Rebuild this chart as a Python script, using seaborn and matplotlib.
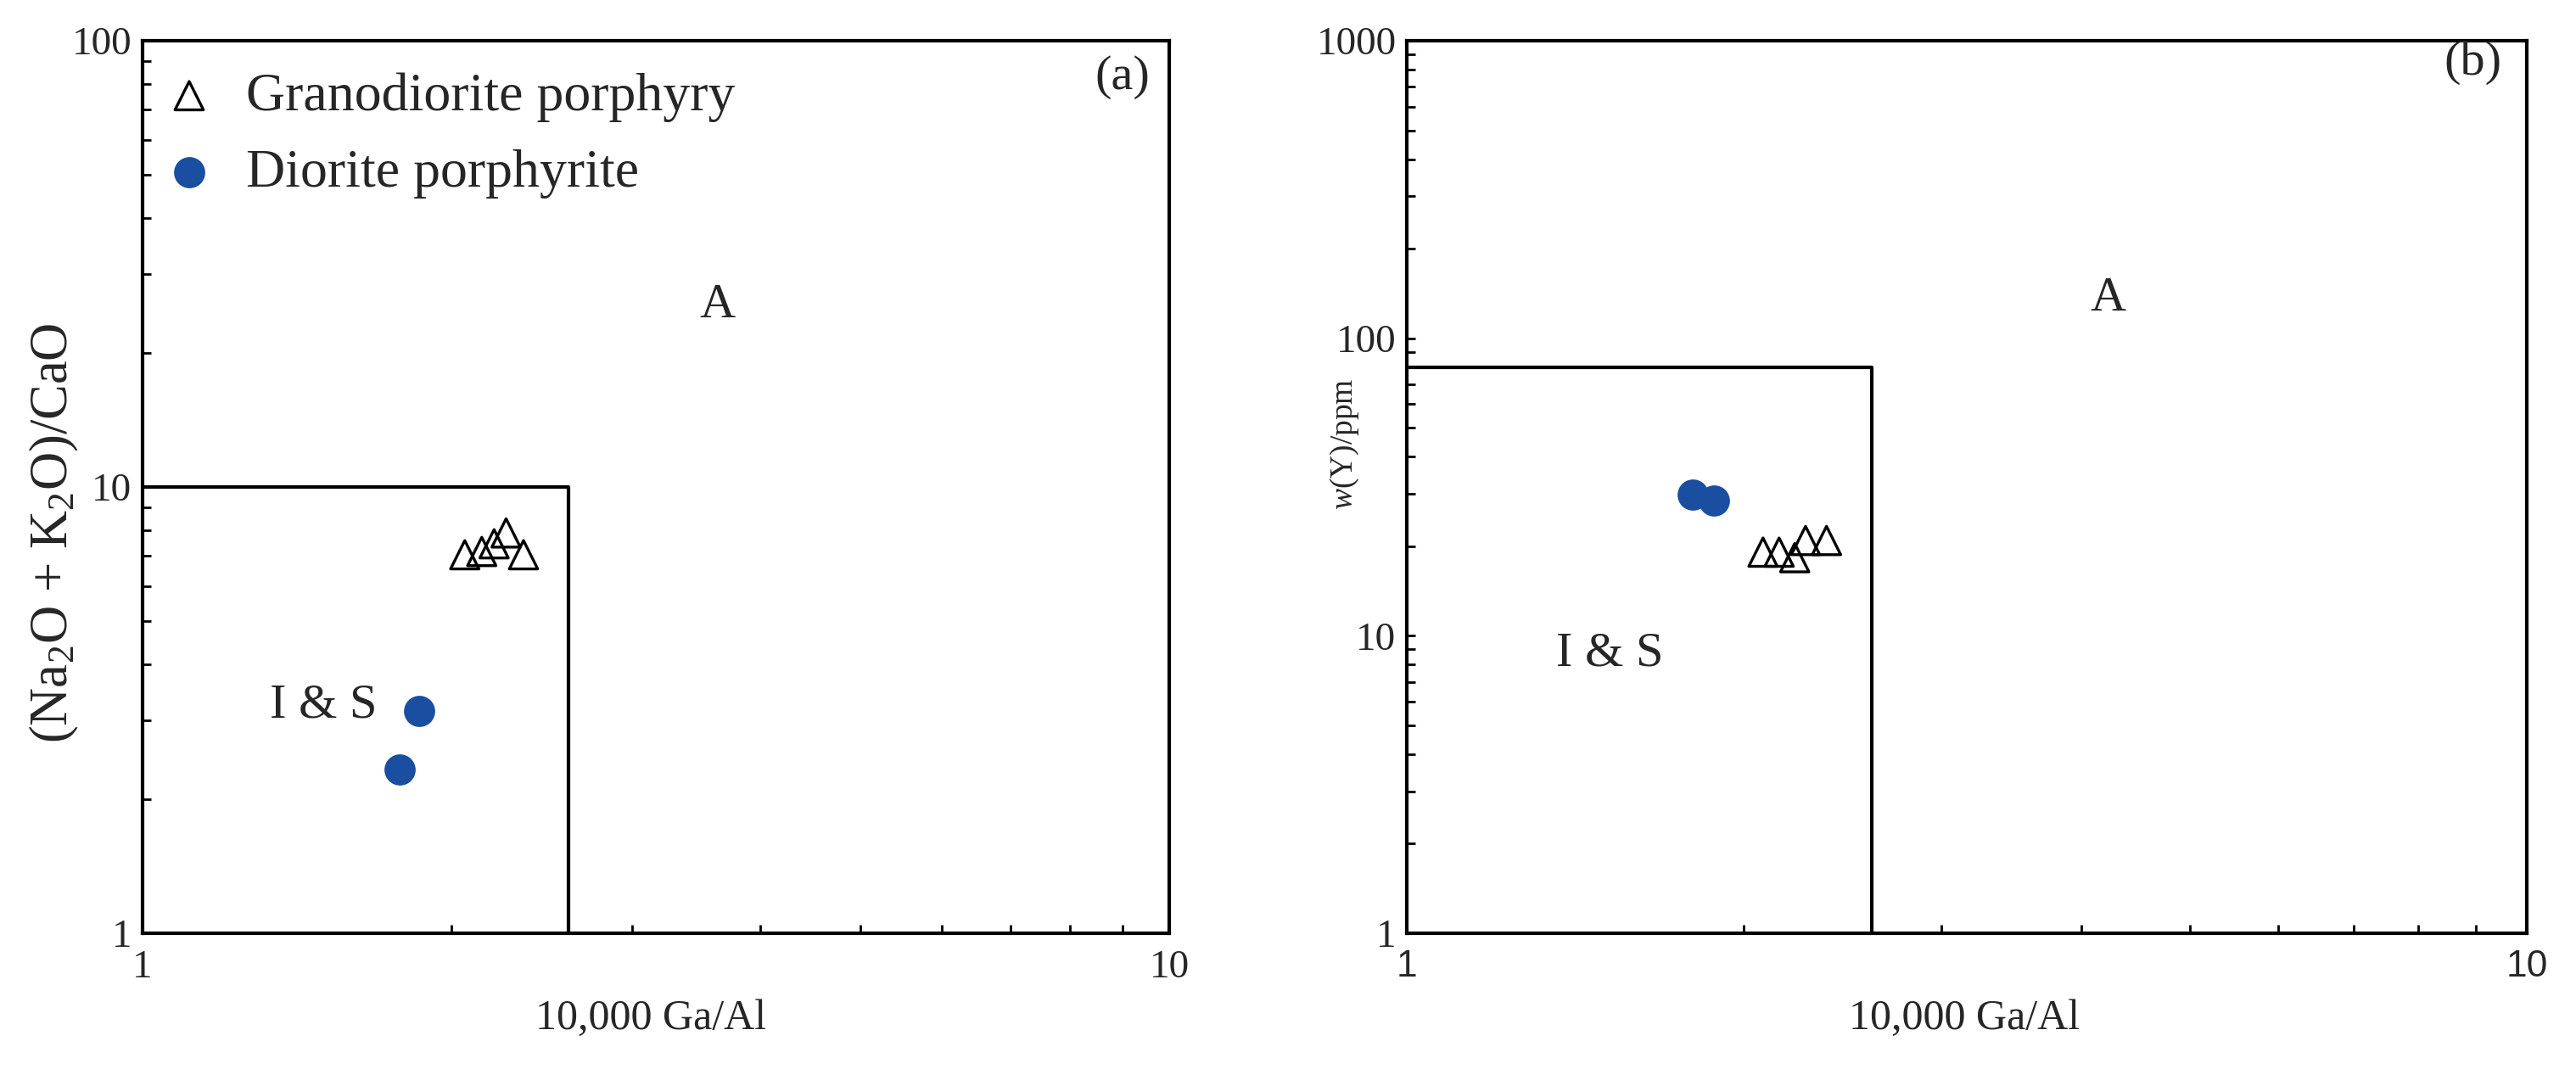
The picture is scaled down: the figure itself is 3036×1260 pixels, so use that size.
import numpy as np
import pandas as pd
import matplotlib
matplotlib.use('Agg')
import matplotlib.pyplot as plt
import matplotlib.ticker as mticker
import seaborn as sns

# ---------------------------------------------
# Data
# ---------------------------------------------
# panel (a): 10000 Ga/Al vs (Na2O+K2O)/CaO
gaal_a_gd = [2.06, 2.14, 2.20, 2.26, 2.35]
alk_cao_gd = [7.05, 7.17, 7.46, 7.89, 7.05]
gaal_a_dp = [1.86, 1.78]
alk_cao_dp = [3.15, 2.33]

# panel (b): 10000 Ga/Al vs Y (ppm)
gaal_b_gd = [2.08, 2.15, 2.22, 2.27, 2.37]
y_ppm_gd = [19.1, 19.1, 18.3, 20.9, 20.9]
gaal_b_dp = [1.80, 1.88]
y_ppm_dp = [29.8, 28.5]

# field boundaries (Whalen et al.)
gaal_limit = 2.6
alk_cao_limit = 10
y_limit = 80

labels = ['Granodiorite porphyry', 'Diorite porphyrite']
blue = '#1a4ea0'

# ---------------------------------------------
# Style
# ---------------------------------------------
sns.set_style('ticks')
plt.rcParams['font.family'] = ['Liberation Serif', 'DejaVu Serif']
plt.rcParams['mathtext.fontset'] = 'custom'
plt.rcParams['mathtext.rm'] = 'Liberation Serif'
plt.rcParams['mathtext.it'] = 'Liberation Serif:italic'

W, H = 3036, 1260
fig = plt.figure(figsize=(W / 100, H / 100), dpi=100)
ax_a = fig.add_axes([168 / W, 160 / H, 1210 / W, 1052 / H])
ax_b = fig.add_axes([1658 / W, 160 / H, 1320 / W, 1052 / H])


def style_axis(ax, ymax):
    ax.set_xscale('log')
    ax.set_yscale('log')
    ax.set_xlim(1, 10)
    ax.set_ylim(1, ymax)
    ax.xaxis.set_major_locator(mticker.FixedLocator([1, 10]))
    yt = [10 ** i for i in range(int(np.log10(ymax)) + 1)]
    ax.yaxis.set_major_locator(mticker.FixedLocator(yt))
    ax.xaxis.set_minor_locator(mticker.LogLocator(base=10, subs=np.arange(2, 10)))
    ax.yaxis.set_minor_locator(mticker.LogLocator(base=10, subs=np.arange(2, 10)))
    fmt = mticker.FuncFormatter(lambda v, p: f'{v:g}')
    ax.xaxis.set_major_formatter(fmt)
    ax.yaxis.set_major_formatter(fmt)
    ax.xaxis.set_minor_formatter(mticker.NullFormatter())
    ax.yaxis.set_minor_formatter(mticker.NullFormatter())
    ax.tick_params(which='both', direction='in', top=False, right=False,
                   length=7, width=2, color='black', labelsize=34)
    ax.tick_params(axis='x', pad=14)
    ax.tick_params(axis='y', pad=9)
    for sp in ax.spines.values():
        sp.set_linewidth(3)
        sp.set_color('black')


def draw_points(ax, x_gd, y_gd, x_dp, y_dp):
    sns.scatterplot(x=x_gd, y=y_gd, ax=ax, marker='^', s=580,
                    facecolors='none', edgecolor='black', linewidth=2.4,
                    label=labels[0], zorder=3)
    sns.scatterplot(x=x_dp, y=y_dp, ax=ax, marker='o', s=700,
                    color=blue, edgecolor=blue, linewidth=0,
                    label=labels[1], zorder=3)


# ---------------------------------------------
# Panel (a)
# ---------------------------------------------
style_axis(ax_a, 100)
ax_a.plot([1, gaal_limit, gaal_limit], [alk_cao_limit, alk_cao_limit, 1],
          color='black', lw=3, zorder=2)
draw_points(ax_a, gaal_a_gd, alk_cao_gd, gaal_a_dp, alk_cao_dp)

ax_a.legend(loc='upper left', bbox_to_anchor=(0.0085, 0.965), frameon=False,
            fontsize=46, handlelength=1.4, handletextpad=0.35,
            labelspacing=0.49, borderaxespad=0, borderpad=0)

ax_a.text(0.560, 0.703, 'A', transform=ax_a.transAxes, fontsize=42,
          ha='center', va='center')
ax_a.text(0.176, 0.255, 'I & S', transform=ax_a.transAxes, fontsize=42,
          ha='center', va='center')
ax_a.text(0.954, 0.959, '(a)', transform=ax_a.transAxes, fontsize=42,
          ha='center', va='center')

ax_a.set_xlabel('10,000 Ga/Al', fontsize=36)
ax_a.xaxis.set_label_coords(0.495, -0.074)
ax_a.set_ylabel(r'(Na$_2$O + K$_2$O)/CaO', fontsize=45)
ax_a.yaxis.set_label_coords(-0.060, 0.448)

# ---------------------------------------------
# Panel (b)
# ---------------------------------------------
style_axis(ax_b, 1000)
ax_b.plot([1, gaal_limit, gaal_limit], [y_limit, y_limit, 1],
          color='black', lw=3, zorder=2)
draw_points(ax_b, gaal_b_gd, y_ppm_gd, gaal_b_dp, y_ppm_dp)
ax_b.get_legend().remove()

for t in ax_b.get_xticklabels():
    t.set_family(['Liberation Sans', 'DejaVu Sans'])
    t.set_fontsize(32)

ax_b.text(0.626, 0.711, 'A', transform=ax_b.transAxes, fontsize=42,
          ha='center', va='center')
ax_b.text(0.181, 0.313, 'I & S', transform=ax_b.transAxes, fontsize=42,
          ha='center', va='center')
ax_b.text(0.952, 0.975, '(b)', transform=ax_b.transAxes, fontsize=42,
          ha='center', va='center')

ax_b.set_xlabel('10,000 Ga/Al', fontsize=36)
ax_b.xaxis.set_label_coords(0.498, -0.074)
ax_b.set_ylabel(r'$\it{w}$(Y)/ppm', fontsize=27)
ax_b.yaxis.set_label_coords(-0.041, 0.548)

fig.savefig('out.png', dpi=100)
